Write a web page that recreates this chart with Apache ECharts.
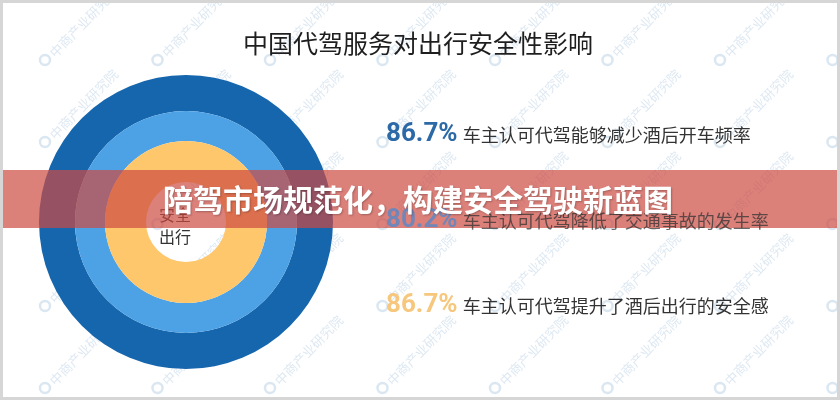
<!DOCTYPE html>
<html><head><meta charset="utf-8">
<script src="https://cdn.jsdelivr.net/npm/echarts@6/dist/echarts.min.js"></script>
<style>html,body{margin:0;padding:0;background:#fff}#c{width:840px;height:400px}</style>
</head><body><div id="c"></div>
<script>
const title = '中国代驾服务对出行安全性影响';
const centerLabel = ['安全', '出行'];
const ringNames = ['车主认可代驾能够减少酒后开车频率', '车主认可代驾降低了交通事故的发生率', '车主认可代驾提升了酒后出行的安全感'];
const ringValues = [86.7, 80.2, 86.7];
const ringColors = ['#1666ae', '#4da2e6', '#fec76b'];
const pctColors = ['#2b6aa6', '#4f88cc', '#f6c77c'];
const bannerText = '陪驾市场规范化，构建安全驾驶新蓝图';
const watermark = '中商产业研究院';

const chart = echarts.init(document.getElementById('c'), null, {renderer: 'canvas'});
const FONT = '"Noto Sans CJK SC", "Noto Sans", sans-serif';
const cx = 186, cy = 222;
const radii = [[111, 147], [81, 111], [40, 81]];
const rowY = [134, 220, 305];

const series = ringValues.map((v, i) => ({
  type: 'pie', silent: true, center: [cx, cy], radius: radii[i],
  label: {show: false}, labelLine: {show: false}, animation: false,
  itemStyle: {color: ringColors[i], borderWidth: 0},
  data: [{name: ringNames[i], value: v}]
}));

const graphic = [];
// watermark
for (let r = 0; r < 5; r++) {
  for (let k = 0; k < 8; k++) {
    const x = 45 + 112.5 * k, y = 60 + 82 * r;
    graphic.push({type: 'circle', silent: true, z: 1, shape: {cx: x, cy: y, r: 5},
      style: {fill: 'none', stroke: 'rgba(150,185,215,0.35)', lineWidth: 2.5}});
    graphic.push({type: 'text', silent: true, z: 1, x: x + 7, y: y - 5, rotation: 0.8,
      style: {text: watermark, font: '13px ' + FONT, fill: 'rgba(150,185,215,0.32)', verticalAlign: 'middle'}});
  }
}
graphic.push({type: 'text', z: 10, x: 418, y: 43,
  style: {text: title, font: '25px ' + FONT, fill: '#1e1e1e', align: 'center', verticalAlign: 'middle'}});
graphic.push({type: 'text', z: 10, x: 159, y: 215,
  style: {text: centerLabel[0], font: '16px ' + FONT, fill: '#333', verticalAlign: 'middle'}});
graphic.push({type: 'text', z: 10, x: 159, y: 237,
  style: {text: centerLabel[1], font: '16px ' + FONT, fill: '#333', verticalAlign: 'middle'}});
ringValues.forEach((v, i) => {
  const under = i === 1;
  graphic.push({type: 'text', z: under ? 101 : 10, x: 386, y: rowY[i],
    style: {text: '{p|' + v.toFixed(1) + '%} {d|' + ringNames[i] + '}', verticalAlign: 'middle',
      opacity: under ? 0.75 : 1,
      rich: {
        p: {fontFamily: 'Roboto, "Noto Sans", sans-serif', fontSize: 26, fontWeight: 'bold', fill: pctColors[i], color: pctColors[i], verticalAlign: 'middle'},
        d: {fontFamily: FONT, fontSize: 18, fill: '#333', color: '#333', verticalAlign: 'middle', padding: [2, 0, 0, 2]}
      }}});
});
// banner overlay
graphic.push({type: 'rect', z: 100, silent: true, shape: {x: 0, y: 170, width: 840, height: 58},
  style: {fill: 'rgba(205,74,65,0.70)'}});
graphic.push({type: 'text', z: 102, x: 163, y: 200,
  style: {text: bannerText, font: 'bold 30px ' + FONT, fill: '#fff', verticalAlign: 'middle',
    textShadowColor: 'rgba(0,0,0,0.25)', textShadowBlur: 2, textShadowOffsetX: 1, textShadowOffsetY: 1}});
// frame
graphic.push({type: 'rect', z: 103, silent: true, shape: {x: 1.5, y: 1.5, width: 837, height: 397},
  style: {fill: 'none', stroke: '#d6d6d6', lineWidth: 3}});

chart.setOption({backgroundColor: '#fff', animation: false, series, graphic});
</script></body></html>
